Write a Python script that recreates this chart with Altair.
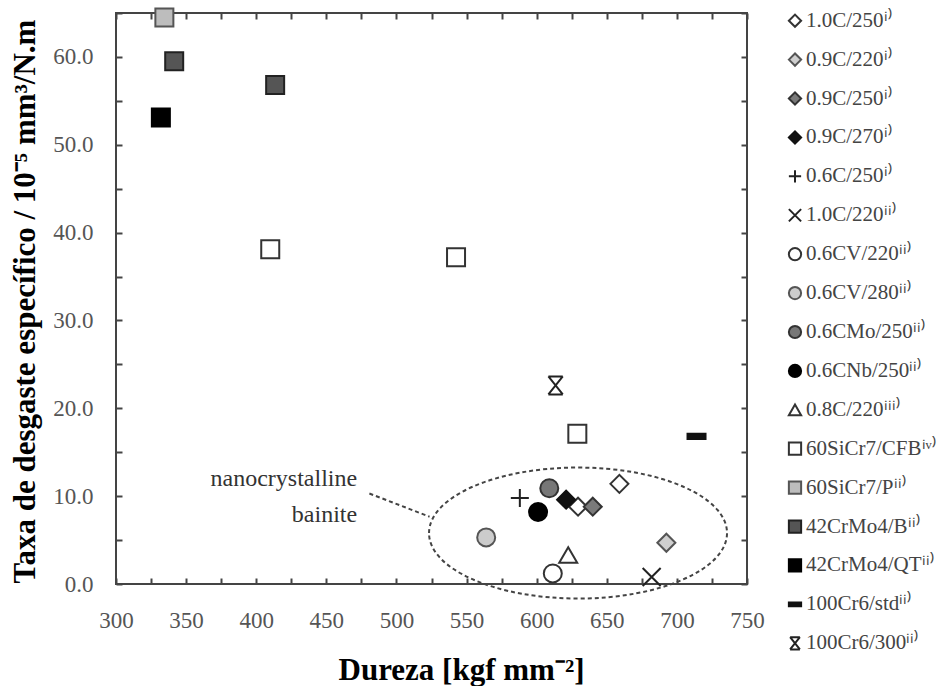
import altair as alt
import pandas as pd

# ---------------- data ----------------
series = ["1.0C/250ⁱ⁾", "0.9C/220ⁱ⁾", "0.9C/250ⁱ⁾", "0.9C/270ⁱ⁾", "0.6C/250ⁱ⁾",
          "1.0C/220ⁱⁱ⁾", "0.6CV/220ⁱⁱ⁾", "0.6CV/280ⁱⁱ⁾", "0.6CMo/250ⁱⁱ⁾", "0.6CNb/250ⁱⁱ⁾",
          "0.8C/220ⁱⁱⁱ⁾", "60SiCr7/CFBⁱᵛ⁾", "60SiCr7/Pⁱⁱ⁾", "42CrMo4/Bⁱⁱ⁾", "42CrMo4/QTⁱⁱ⁾",
          "100Cr6/stdⁱⁱ⁾", "100Cr6/300ⁱⁱ⁾"]

point_series = [0, 0, 1, 2, 3, 4, 5, 6, 7, 8, 9, 10, 11, 11, 11, 12, 13, 13, 14, 15, 16]
point_x = [659, 629.5, 692.5, 640, 621, 588, 682, 611.5, 564, 609, 601, 622.5,
           410, 542.5, 629, 334.5, 341.5, 413.5, 332, 714, 613.5]
point_y = [11.4, 8.8, 4.7, 8.8, 9.6, 9.8, 0.8, 1.2, 5.3, 10.9, 8.2, 3.3,
           38.1, 37.2, 17.1, 64.5, 59.5, 56.8, 53.1, 16.8, 22.6]

x_ticks = list(range(300, 751, 25))
y_ticks = list(range(0, 66, 5))

annot_text = ["nanocrystalline", "bainite"]
annot_x = [472, 472]
annot_y = [11.15, 7.1]
leader_x = [480.7]
leader_y = [10.3]
leader_x2 = [523.6]
leader_y2 = [7.66]
ellipse_x = [629.5]
ellipse_y = [5.8]

# ---------------- styles ----------------
PLUS = "M-1,0L1,0M0,-1L0,1"
CROSS = "M-1,-1L1,1M1,-1L-1,1"
DASH = "M-1,-0.3L1,-0.3L1,0.3L-1,0.3Z"
HOURGLASS = "M-0.8,-1L0.8,1M0.8,-1L-0.8,1M-0.8,-1L0.8,-1M-0.8,1L0.8,1"
ELLIPSE = ("M-1,0C-1,-0.2428 -0.5523,-0.4396 0,-0.4396C0.5523,-0.4396 1,-0.2428 1,0"
           "C1,0.2428 0.5523,0.4396 0,0.4396C-0.5523,0.4396 -1,0.2428 -1,0Z")

shapes = ["diamond", "diamond", "diamond", "diamond", PLUS, CROSS,
          "circle", "circle", "circle", "circle", "triangle-up",
          "square", "square", "square", "square", DASH, HOURGLASS]
fills = ["white", "#cfcfcf", "#7a7a7a", "#111111", "#222222", "#222222",
         "white", "#cccccc", "#777777", "#000000", "white",
         "white", "#bdbdbd", "#555555", "#000000", "#111111", "#222222"]
strokes = ["#333333", "#555555", "#333333", "#111111", "#222222", "#222222",
           "#333333", "#555555", "#333333", "#000000", "#333333",
           "#333333", "#555555", "#222222", "#000000", "#111111", "#222222"]
sizes = [324, 324, 324, 324, 225, 196, 256, 256, 256, 256, 300,
         240, 240, 240, 240, 144, 169]

FONT = "Liberation Serif"
NEG_TICK = {"expr": "-6"}

df = pd.DataFrame({"x": point_x, "y": point_y,
                   "series": [series[i] for i in point_series]})
leg_df = pd.DataFrame({"series": series})

x_scale = alt.Scale(domain=[300, 750], nice=False, zero=False)
y_scale = alt.Scale(domain=[0, 65], nice=False, zero=False)
shape_scale = alt.Scale(domain=series, range=shapes)
fill_scale = alt.Scale(domain=series, range=fills)
stroke_scale = alt.Scale(domain=series, range=strokes)
legend_y_scale = alt.Scale(type="point", domain=series, range=[7.7, 630.3], padding=0)

common_axis = dict(domain=False, grid=False, tickColor="#444444", tickWidth=2,
                   tickSize=NEG_TICK, labelFont=FONT, labelColor="#555555",
                   labelFontSize=23, labelFlush=False, titleFont=FONT,
                   titleFontWeight="bold", titleColor="#000000", titleFontSize=31)

x_axis = alt.Axis(values=x_ticks, orient="bottom",
                  labelExpr="datum.value % 50 == 0 ? datum.label : ''",
                  labelPadding=31, labelBaseline="top",
                  title="Dureza [kgf mm⁻²]", titleX=345, titleY=95,
                  titleAlign="center", titleBaseline="alphabetic", **common_axis)
y_axis = alt.Axis(values=y_ticks, orient="left",
                  labelExpr="datum.value % 10 == 0 ? format(datum.value, '.1f') : ''",
                  labelPadding=29,
                  title="Taxa de desgaste específico / 10⁻⁵ mm³/N.m",
                  titleX=-91, titleY=288, titleAngle=270, titleAlign="center",
                  titleBaseline="middle", **common_axis)

points = alt.Chart(df).mark_point(filled=True, opacity=1, strokeWidth=2).encode(
    x=alt.X("x:Q", scale=x_scale, axis=x_axis),
    y=alt.Y("y:Q", scale=y_scale, axis=y_axis),
    shape=alt.Shape("series:N", scale=shape_scale, legend=None),
    fill=alt.Fill("series:N", scale=fill_scale, legend=None),
    stroke=alt.Stroke("series:N", scale=stroke_scale, legend=None),
    size=alt.Size("series:N", scale=alt.Scale(domain=series, range=sizes), legend=None),
)

mirror_axis = dict(domain=False, grid=False, tickColor="#444444", tickWidth=2,
                   tickSize=NEG_TICK, labels=False, title=None)
mirror = alt.Chart(df).mark_point(opacity=0).encode(
    x=alt.X("x:Q", scale=x_scale, axis=alt.Axis(values=x_ticks, orient="top", **mirror_axis)),
    y=alt.Y("y:Q", scale=y_scale, axis=alt.Axis(values=y_ticks, orient="right", **mirror_axis)),
)

ell_df = pd.DataFrame({"x": ellipse_x, "y": ellipse_y})
ellipse = alt.Chart(ell_df).mark_point(
    shape=ELLIPSE, size=88804, filled=False, opacity=1, stroke="#444444",
    strokeWidth=2, strokeDash=[4, 3]
).encode(
    x=alt.X("x:Q", scale=x_scale, axis=None),
    y=alt.Y("y:Q", scale=y_scale, axis=None),
)

lead_df = pd.DataFrame({"x": leader_x, "y": leader_y, "x2": leader_x2, "y2": leader_y2})
leader = alt.Chart(lead_df).mark_rule(strokeDash=[4, 3], strokeWidth=2, color="#444444").encode(
    x=alt.X("x:Q", scale=x_scale, axis=None),
    y=alt.Y("y:Q", scale=y_scale, axis=None),
    x2="x2:Q",
    y2="y2:Q",
)

txt_df = pd.DataFrame({"x": annot_x, "y": annot_y, "t": annot_text})
text = alt.Chart(txt_df).mark_text(align="right", baseline="alphabetic", font=FONT,
                                   fontSize=24, color="#333333").encode(
    x=alt.X("x:Q", scale=x_scale, axis=None),
    y=alt.Y("y:Q", scale=y_scale, axis=None),
    text="t:N",
)

# ---------------- legend (built from the same scales) ----------------
leg_symbols = alt.Chart(leg_df).mark_point(filled=True, opacity=1, strokeWidth=2, size=150).encode(
    x=alt.value(679),
    y=alt.Y("series:N", scale=legend_y_scale, axis=None),
    shape=alt.Shape("series:N", scale=shape_scale, legend=None),
    fill=alt.Fill("series:N", scale=fill_scale, legend=None),
    stroke=alt.Stroke("series:N", scale=stroke_scale, legend=None),
)
leg_labels = alt.Chart(leg_df).mark_text(align="left", baseline="middle", font=FONT,
                                         fontSize=21, color="#444444").encode(
    x=alt.value(690),
    y=alt.Y("series:N", scale=legend_y_scale, axis=None),
    text="series:N",
)

chart = alt.layer(ellipse, leader, text, points, mirror, leg_symbols, leg_labels).resolve_axis(
    x="independent", y="independent"
).resolve_scale(
    y="independent"
).properties(
    width=631, height=571,
    padding={"left": 116, "top": 13, "right": 194, "bottom": 102},
    autosize=alt.AutoSizeParams(type="none"),
    background="white",
).configure_view(stroke="#444444", strokeWidth=2)

chart.save("out.html", embed_options={"renderer": "svg", "actions": False})
